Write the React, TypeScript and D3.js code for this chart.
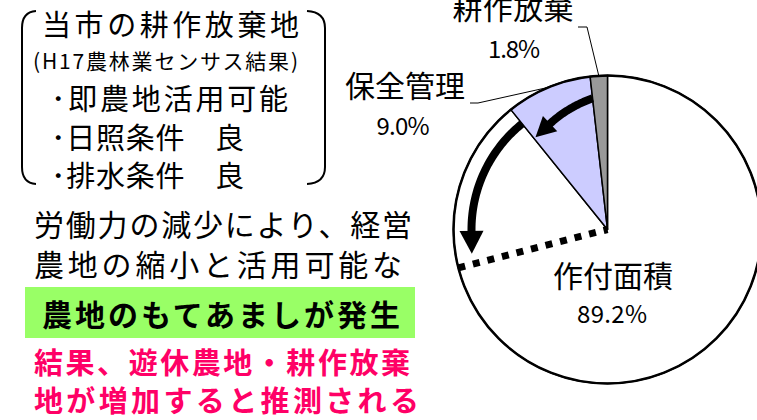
import React from "react";
import * as d3 from "d3";

// ---- data ----
const pieCategories = ["作付面積", "保全管理", "耕作放棄"];
const pieValues = [89.2, 9.0, 1.8];
const pieValueLabels = ["89.2%", "9.0%", "1.8%"];
const pieColors = ["#FFFFFF", "#CCCCFF", "#999999"];
// estimated share marked by the dotted boundary (projected abandoned area)
const projectedShare = 29.0;

const boxTitle = "当市の耕作放棄地";
const boxSubtitle = "(H17農林業センサス結果)";
const boxBullets = ["･即農地活用可能", "･日照条件　良", "･排水条件　良"];
const bodyLines = ["労働力の減少により、経営", "農地の縮小と活用可能な"];
const highlightLine = "農地のもてあましが発生";
const conclusionLines = ["結果、遊休農地・耕作放棄", "地が増加すると推測される"];

const FONT = "'Noto Sans CJK JP', 'Noto Sans', sans-serif";

const W = 757;
const H = 420;
const cx = 607.5;
const cy = 229.5;
const R = 154;

const deg = Math.PI / 180;
// angle in radians, measured clockwise from 12 o'clock (d3 convention)
const polar = (a: number, r: number): [number, number] => [cx + r * Math.sin(a), cy - r * Math.cos(a)];

function arrowPath(a0: number, a1: number, r0: number, r1: number) {
  const n = 40;
  const pts: [number, number][] = d3.range(n + 1).map((i) => {
    const t = i / n;
    return polar(a0 + (a1 - a0) * t, r0 + (r1 - r0) * t);
  });
  return { pts, line: d3.line()(pts) as string };
}

function arrowHead(pts: [number, number][], len: number, width: number) {
  const [x1, y1] = pts[pts.length - 2];
  const [x2, y2] = pts[pts.length - 1];
  const dx = x2 - x1;
  const dy = y2 - y1;
  const m = Math.hypot(dx, dy);
  const ux = dx / m;
  const uy = dy / m;
  const px = -uy;
  const py = ux;
  const bx = x2 - ux * 2;
  const by = y2 - uy * 2;
  const tip: [number, number] = [bx + ux * len, by + uy * len];
  const b1: [number, number] = [bx + px * width / 2, by + py * width / 2];
  const b2: [number, number] = [bx - px * width / 2, by - py * width / 2];
  return `M${tip[0]},${tip[1]}L${b1[0]},${b1[1]}L${b2[0]},${b2[1]}Z`;
}

export default function App() {
  const pie = d3.pie<number>().sort(null).value((d) => d).startAngle(0).endAngle(2 * Math.PI);
  const arcs = pie(pieValues);
  const arcGen = d3.arc<d3.PieArcDatum<number>>().innerRadius(0).outerRadius(R);

  const hozen = arcs[1];
  const houki = arcs[2];

  // arrow 1: from 耕作放棄 boundary across 保全管理
  const a1 = arrowPath(houki.startAngle, hozen.startAngle + 9.5 * deg, 132, 120);
  // arrow 2: from 保全管理 boundary down along the rim
  const projAngle = 2 * Math.PI - (projectedShare / 100) * 2 * Math.PI;
  const a2 = arrowPath(hozen.startAngle, projAngle + 13 * deg, 136, 136);

  const dotEnd = polar(projAngle, R);

  const midA = (d: d3.PieArcDatum<number>) => (d.startAngle + d.endAngle) / 2;
  const houkiEdge = polar(midA(houki), R);
  const hozenEdge = polar(midA(hozen), R);

  const leftText = (
    s: string,
    x: number,
    y: number,
    len: number,
    fs: number,
    weight = 400,
    fill = "#000"
  ) => (
    <text
      x={x}
      y={y}
      fontSize={fs}
      fontWeight={weight}
      fill={fill}
      fontFamily={FONT}
      textLength={len}
      lengthAdjust="spacing"
    >
      {s}
    </text>
  );

  const centerText = (s: string, x: number, y: number, len: number, fs: number) => (
    <text
      x={x}
      y={y}
      fontSize={fs}
      fill="#000"
      fontFamily={FONT}
      textAnchor="middle"
      textLength={len}
      lengthAdjust="spacing"
    >
      {s}
    </text>
  );

  const bulletYs = [110, 148.5, 187];
  const bulletLens = [237, 193, 193];

  return (
    <svg
      width={W}
      height={H}
      viewBox={`0 0 ${W} ${H}`}
      style={{ position: "absolute", left: 0, top: 0, background: "#fff" }}
    >
      {/* brackets */}
      <path d="M36,11 Q22,12 22,28 L22,167 Q22,183 36,184" fill="none" stroke="#000" strokeWidth={2} />
      <path d="M307,11 Q325,12 325,28 L325,167 Q325,183 307,184" fill="none" stroke="#000" strokeWidth={2} />

      {leftText(boxTitle, 42, 36, 257, 29)}
      {leftText(boxSubtitle, 33, 69, 265, 21)}
      {boxBullets.map((s, i) => (
        <g key={s}>{leftText(s, 51, bulletYs[i], bulletLens[i], 29)}</g>
      ))}

      {leftText(bodyLines[0], 34, 236, 378, 30)}
      {leftText(bodyLines[1], 34, 276, 368, 30)}

      <rect x={25} y={287} width={390} height={51} fill="#99FF66" />
      {leftText(highlightLine, 42, 326, 358, 30, 700)}

      {leftText(conclusionLines[0], 34, 374, 376, 29, 700, "#FF0066")}
      {leftText(conclusionLines[1], 34, 412, 385, 29, 700, "#FF0066")}

      {/* pie */}
      <g transform={`translate(${cx},${cy})`}>
        {arcs.map((a, i) => (
          <path key={pieCategories[i]} d={arcGen(a) as string} fill={pieColors[i]} stroke="#000" strokeWidth={1.5} strokeLinejoin="round" />
        ))}
        <circle r={R} fill="none" stroke="#000" strokeWidth={2.5} />
      </g>

      {/* dotted projected boundary */}
      <line x1={dotEnd[0]} y1={dotEnd[1]} x2={cx} y2={cy} stroke="#000" strokeWidth={7} strokeDasharray="7 8" />

      {/* arrows */}
      <path d={a1.line} fill="none" stroke="#000" strokeWidth={8} />
      <path d={arrowHead(a1.pts, 20, 21)} fill="#000" />
      <path d={a2.line} fill="none" stroke="#000" strokeWidth={8} />
      <path d={arrowHead(a2.pts, 23, 24)} fill="#000" />

      {/* leader lines */}
      <polyline points={`578,27 587,27 ${houkiEdge[0]},${houkiEdge[1]}`} fill="none" stroke="#000" strokeWidth={1} />
      <polyline points={`470,103 478,103 ${hozenEdge[0]},${hozenEdge[1]}`} fill="none" stroke="#000" strokeWidth={1} />

      {/* labels */}
      {centerText(pieCategories[2], 513, 19, 121, 30)}
      {centerText(pieValueLabels[2], 514, 58, 52, 24)}
      {centerText(pieCategories[1], 405, 97, 120, 30)}
      {centerText(pieValueLabels[1], 403, 135, 53, 24)}
      {centerText(pieCategories[0], 613, 287, 120, 30)}
      {centerText(pieValueLabels[0], 612, 323, 70, 24)}
    </svg>
  );
}
